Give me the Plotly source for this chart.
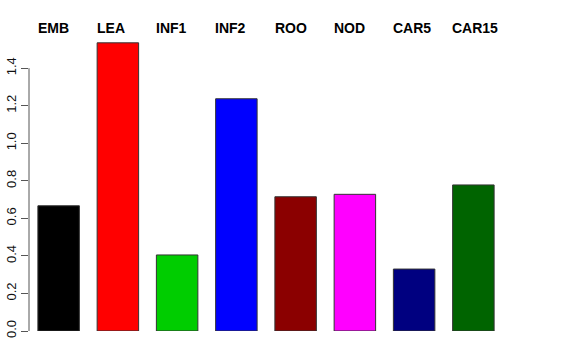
import plotly.graph_objects as go

categories = ["EMB", "LEA", "INF1", "INF2", "ROO", "NOD", "CAR5", "CAR15"]
values = [0.667, 1.535, 0.405, 1.237, 0.715, 0.728, 0.330, 0.778]
colors = ["#000000", "#FF0000", "#00CD00", "#0000FF", "#8B0000", "#FF00FF", "#000080", "#006400"]
yticks = [0.0, 0.2, 0.4, 0.6, 0.8, 1.0, 1.2, 1.4]

xpos = list(range(len(categories)))

fig = go.Figure()
fig.add_trace(go.Bar(
    x=xpos, y=values,
    marker=dict(color=colors, line=dict(color="#333333", width=1)),
    width=0.7,
    showlegend=False,
    hoverinfo="skip",
))

for i, c in enumerate(categories):
    fig.add_annotation(
        x=xpos[i] - 0.39, xref="x", y=1.041, yref="paper",
        text="<b>" + c + "</b>", showarrow=False,
        xanchor="left", yanchor="middle",
        font=dict(family="Liberation Sans, Arial, sans-serif", size=14, color="#000000"),
    )

# y axis line from 0 to last tick (R style)
fig.add_shape(type="line", xref="paper", yref="y", x0=0, x1=0,
              y0=yticks[0], y1=yticks[-1], line=dict(color="#555555", width=1))

fig.update_layout(
    width=576, height=360,
    margin=dict(l=29, r=73, t=40, b=28.5),
    plot_bgcolor="white", paper_bgcolor="white",
    xaxis=dict(range=[-0.5, 7.5], showticklabels=False, showgrid=False,
               zeroline=False, showline=False, ticks="", automargin=False),
    yaxis=dict(range=[0, 1.55], tickvals=yticks,
               ticktext=[f"{v:.1f}" for v in yticks],
               tickangle=-90, ticks="outside", ticklen=7, tickcolor="#555555",
               showgrid=False, zeroline=False, showline=False, automargin=False,
               tickfont=dict(family="Liberation Sans, Arial, sans-serif", size=13, color="#111111")),
)

fig.write_html("out.html",
               config={"displayModeBar": False},
               post_script="document.body.style.margin='0';document.body.style.overflow='hidden';")
